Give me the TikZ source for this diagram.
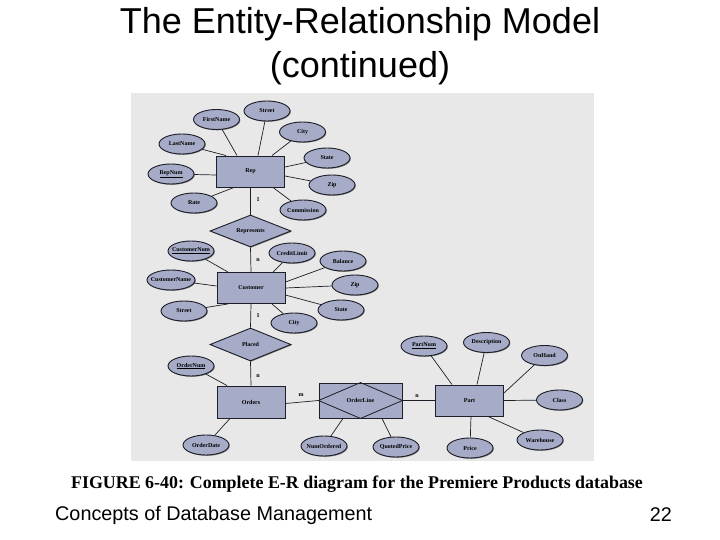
\documentclass[tikz,border=0pt]{standalone}
\usepackage{fontspec}
\setmainfont{Liberation Serif}
\setsansfont{Liberation Sans}
\usetikzlibrary{shapes.geometric,shadows}
\definecolor{panelbg}{HTML}{E8E8E8}
\definecolor{shapefill}{HTML}{A6ACC7}
\definecolor{edgecol}{HTML}{1E1E28}
\tikzset{
  shd/.style={drop shadow={shadow xshift=0.8pt,shadow yshift=-0.8pt,opacity=0.45,fill=black}},
  attr/.style={ellipse,draw=edgecol,line width=0.9pt,fill=shapefill,shd,minimum width=46pt,minimum height=20pt,inner xsep=-6pt,inner ysep=0pt,font=\fontsize{6}{7}\selectfont\bfseries},
  ent/.style={rectangle,draw=edgecol,line width=0.9pt,fill=shapefill,shd,minimum width=68pt,minimum height=31pt,inner sep=0pt,font=\fontsize{6}{7}\selectfont\bfseries},
  rel/.style={diamond,draw=edgecol,line width=0.9pt,fill=shapefill,shd,minimum width=81pt,minimum height=32pt,inner sep=0pt,aspect=2.5,font=\fontsize{6}{7}\selectfont\bfseries},
  card/.style={inner sep=0pt,font=\fontsize{6}{7}\selectfont\bfseries},
  conn/.style={draw=edgecol,line width=0.7pt},
}
\begin{document}
\begin{tikzpicture}[x=1pt,y=-1pt]
\useasboundingbox (0,0) rectangle (720,540);
\fill[white] (0,0) rectangle (720,540);
% title
\node[font=\sffamily\fontsize{36}{40}\selectfont] (t1) at (360,24) {The Entity-Relationship Model};
\node[font=\sffamily\fontsize{36}{40}\selectfont] (t2) at (360,68) {(continued)};
% panel
\fill[panelbg] (131,93) rectangle (594,461);
% entities and relationships
\node[ent] (Rep) at (250.5,171.5) {Rep};
\node[ent] (Customer) at (251,288) {Customer};
\node[ent,minimum height=32pt] (Orders) at (251,402) {Orders};
\node[ent] (Part) at (469.5,400.5) {Part};
\node[ent,minimum width=83pt,minimum height=35pt] (OrderLine) at (360.5,400.5) {};
\node[rel] (Represents) at (250.5,231) {Represents};
\node[rel,minimum height=33pt] (Placed) at (250.5,344.5) {Placed};
% attributes
\node[attr] (FirstName) at (216.5,119.5) {FirstName};
\node[attr] (StreetA) at (267,111) {Street};
\node[attr] (LastName) at (182,144) {LastName};
\node[attr] (CityA) at (302.5,132) {City};
\node[attr] (StateA) at (327,158) {State};
\node[attr] (RepNum) at (171,174) {\underline{RepNum}};
\node[attr] (ZipA) at (332,185) {Zip};
\node[attr] (Rate) at (194,203) {Rate};
\node[attr] (Commission) at (303,210) {Commission};
\node[attr] (CustomerNum) at (191,251) {\underline{CustomerNum}};
\node[attr] (CreditLimit) at (292,253) {CreditLimit};
\node[attr] (Balance) at (343,261) {Balance};
\node[attr,minimum width=48pt] (CustomerName) at (171,280) {CustomerName};
\node[attr] (ZipB) at (355,285) {Zip};
\node[attr] (StreetB) at (184,311) {Street};
\node[attr] (StateB) at (341,310) {State};
\node[attr] (CityB) at (294,323) {City};
\node[attr] (OrderNum) at (191,366) {\underline{OrderNum}};
\node[attr] (OrderDate) at (206,445) {OrderDate};
\node[attr] (NumOrdered) at (324,446) {NumOrdered};
\node[attr] (QuotedPrice) at (396,447) {QuotedPrice};
\node[attr] (PartNum) at (424,346) {\underline{PartNum}};
\node[attr] (Description) at (486.5,342.5) {Description};
\node[attr] (OnHand) at (544.5,355.5) {OnHand};
\node[attr] (Class) at (559.5,400) {Class};
\node[attr] (Warehouse) at (540,440) {Warehouse};
\node[attr] (Price) at (470,448) {Price};
% OrderLine inner diamond
\draw[edgecol,line width=0.8pt] (OrderLine.west) -- (OrderLine.north) -- (OrderLine.east) -- (OrderLine.south) -- cycle;
\node[card] (OLtext) at (OrderLine.center) {OrderLine};
% connectors
\draw[conn] (FirstName) -- ([xshift=-13.5pt]Rep.north);
\draw[conn] (StreetA) -- ([xshift=7.5pt]Rep.north);
\draw[conn] (LastName) -- ([xshift=-24.5pt]Rep.north);
\draw[conn] (CityA) -- ([xshift=21.5pt]Rep.north);
\draw[conn] (StateA) -- ([yshift=4.5pt]Rep.east);
\draw[conn] (RepNum) -- ([yshift=-3.5pt]Rep.west);
\draw[conn] (ZipA) -- ([yshift=-4.5pt]Rep.east);
\draw[conn] (Rate) -- ([xshift=-16.5pt]Rep.south);
\draw[conn] (Commission) -- ([xshift=22.5pt]Rep.south);
\draw[conn] (Rep.south) -- (Represents.north);
\draw[conn] (Represents.south) -- (Customer.north);
\draw[conn] (CustomerNum) -- ([xshift=-23pt]Customer.north);
\draw[conn] (CreditLimit) -- ([xshift=22pt]Customer.north);
\draw[conn] (Balance) -- ([yshift=6pt]Customer.east);
\draw[conn] (CustomerName) -- ([yshift=2pt]Customer.west);
\draw[conn] (ZipB) -- (Customer.east);
\draw[conn] (StreetB) -- ([xshift=-23pt]Customer.south);
\draw[conn] (StateB) -- ([yshift=-7pt]Customer.east);
\draw[conn] (CityB) -- ([xshift=21pt]Customer.south);
\draw[conn] (Customer.south) -- (Placed.north);
\draw[conn] (Placed.south) -- (Orders.north);
\draw[conn] (OrderNum) -- ([xshift=-24pt]Orders.north);
\draw[conn] (OrderDate) -- ([xshift=-21pt]Orders.south);
\draw[conn] ([yshift=-1.5pt]Orders.east) -- (OrderLine.west);
\draw[conn] (NumOrdered) -- ([xshift=-17.5pt]OrderLine.south);
\draw[conn] (QuotedPrice) -- ([xshift=21.5pt]OrderLine.south);
\draw[conn] (OrderLine.east) -- (Part.west);
\draw[conn] (PartNum) -- ([xshift=-17.5pt]Part.north);
\draw[conn] (Description) -- ([xshift=7.5pt]Part.north);
\draw[conn] (OnHand) -- ([yshift=7.5pt]Part.east);
\draw[conn] (Class) -- (Part.east);
\draw[conn] (Warehouse) -- ([xshift=18.5pt]Part.south);
\draw[conn] (Price) -- ([xshift=1.5pt]Part.south);
% cardinalities
\node[card] (c1) at (258,200) {1};
\node[card] (c2) at (258,260) {n};
\node[card] (c3) at (258,316) {1};
\node[card] (c4) at (258,376) {n};
\node[card] (c5) at (301,395) {m};
\node[card] (c6) at (417,396) {n};
% caption and footer
\node[font=\bfseries\fontsize{17.9}{20}\selectfont] (cap) at (357,484) {FIGURE 6-40: Complete E-R diagram for the Premiere Products database};
\node[font=\sffamily\fontsize{19.8}{23}\selectfont,anchor=west,inner sep=0pt] (foot) at (55,515) {Concepts of Database Management};
\node[font=\sffamily\fontsize{19.8}{23}\selectfont,anchor=east,inner sep=0pt] (page) at (672,515) {22};
\end{tikzpicture}
\end{document}
